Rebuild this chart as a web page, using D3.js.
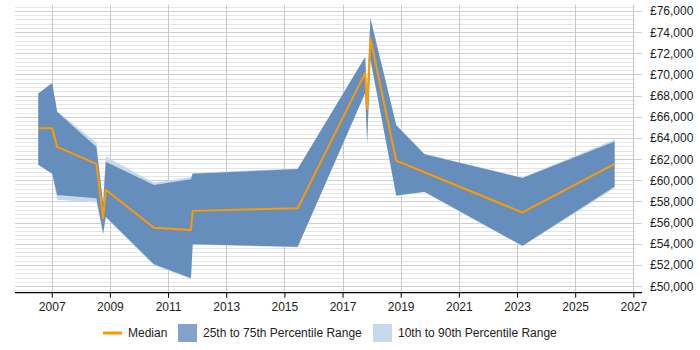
<!DOCTYPE html>
<html>
<head>
<meta charset="utf-8">
<script src="https://cdn.jsdelivr.net/npm/d3@7"></script>
<style>
  body { margin: 0; background: #fff; }
  text { font-family: "Liberation Sans", Arial, sans-serif; }
</style>
</head>
<body>
<div id="chart"></div>
<script>
// Data (decimal years, GBP)
const years  = [2006.52, 2007.0, 2007.17, 2008.52, 2008.75, 2008.84, 2010.5, 2011.77, 2011.83, 2015.44, 2017.76, 2017.83, 2017.94, 2018.83, 2019.8, 2023.17, 2026.34];
const median = [64950, 64950, 63200, 61600, 56450, 59150, 55550, 55350, 57150, 57400, 70200, 66800, 73450, 61900, 60800, 57000, 61600];
const p75    = [68250, 69250, 66500, 63200, 57800, 61800, 59600, 60150, 60650, 61100, 71700, 67900, 75350, 65250, 62500, 60250, 63700];
const p25    = [61500, 60650, 58650, 58350, 55000, 56600, 52100, 50800, 54000, 53750, 68300, 63600, 71500, 58600, 58950, 53850, 59450];
const p90    = [68250, 69250, 66600, 63600, 57900, 62300, 59800, 60350, 60750, 61150, 71700, 67900, 75400, 65300, 62550, 60300, 63900];
const p10    = [61500, 60650, 58200, 57950, 54900, 56500, 52000, 50700, 53950, 53700, 68250, 63500, 71450, 58550, 58900, 53800, 59300];

const xTicks = [2007, 2009, 2011, 2013, 2015, 2017, 2019, 2021, 2023, 2025, 2027];
const yTicks = d3.range(50000, 76001, 2000);
const yMinor = d3.range(49600, 76601, 400);

const width = 700, height = 350;
const plotLeft = 15, plotRight = 642, gridRight = 635, plotTop = 5, plotBottom = 292.7;

const svg = d3.select('#chart').append('svg')
  .attr('width', width)
  .attr('height', height);

const x = d3.scaleLinear().domain([2005.72, 2027.28]).range([plotLeft, plotRight]);
const y = d3.scaleLinear().domain([49414, 76614]).range([plotBottom, plotTop]);

// minor horizontal grid
svg.append('g').selectAll('line').data(yMinor.filter(v => v % 2000 !== 0)).join('line')
  .attr('x1', plotLeft).attr('x2', gridRight)
  .attr('y1', d => y(d)).attr('y2', d => y(d))
  .attr('stroke', '#e6e6e6').attr('stroke-width', 1).attr('shape-rendering', 'crispEdges');

// major horizontal grid + right ticks
svg.append('g').selectAll('line').data(yTicks).join('line')
  .attr('x1', plotLeft).attr('x2', plotRight)
  .attr('y1', d => y(d)).attr('y2', d => y(d))
  .attr('stroke', '#cfcfcf').attr('stroke-width', 1).attr('shape-rendering', 'crispEdges');

// vertical grid
svg.append('g').selectAll('line').data(xTicks).join('line')
  .attr('x1', d => x(d)).attr('x2', d => x(d))
  .attr('y1', plotTop).attr('y2', plotBottom)
  .attr('stroke', '#c8c8c8').attr('stroke-width', 1).attr('shape-rendering', 'crispEdges');

const idx = d3.range(years.length);

// 10th to 90th band
svg.append('path')
  .datum(idx)
  .attr('fill', '#c6d8ec')
  .attr('d', d3.area().x(i => x(years[i])).y0(i => y(p10[i])).y1(i => y(p90[i])));

// 25th to 75th band
svg.append('path')
  .datum(idx)
  .attr('fill', '#4e7cb0')
  .attr('fill-opacity', 0.8)
  .attr('d', d3.area().x(i => x(years[i])).y0(i => y(p25[i])).y1(i => y(p75[i])));

// median
svg.append('path')
  .datum(idx)
  .attr('fill', 'none')
  .attr('stroke', '#ff9900')
  .attr('stroke-width', 2)
  .attr('stroke-linejoin', 'round')
  .attr('d', d3.line().x(i => x(years[i])).y(i => y(median[i])));

// bottom axis
const xAxis = svg.append('g').attr('transform', `translate(0,${plotBottom})`);
xAxis.append('line')
  .attr('x1', plotLeft).attr('x2', plotRight).attr('y1', 0).attr('y2', 0)
  .attr('stroke', '#000').attr('stroke-width', 1.3);
xAxis.selectAll('line.tick').data(xTicks).join('line')
  .attr('class', 'tick')
  .attr('x1', d => x(d)).attr('x2', d => x(d))
  .attr('y1', 0).attr('y2', 5)
  .attr('stroke', '#000');
xAxis.selectAll('text').data(xTicks).join('text')
  .attr('x', d => x(d)).attr('y', 18)
  .attr('text-anchor', 'middle')
  .attr('font-size', 12)
  .attr('fill', '#222')
  .text(d => d);

// right axis labels
const fmt = d3.format(',');
svg.append('g').selectAll('text').data(yTicks).join('text')
  .attr('x', 650).attr('y', d => y(d))
  .attr('dominant-baseline', 'central')
  .attr('font-size', 12)
  .attr('fill', '#222')
  .text(d => '£' + fmt(d));

// legend
const legend = svg.append('g').attr('transform', 'translate(0,333)');
legend.append('line')
  .attr('x1', 103).attr('x2', 122).attr('y1', 0).attr('y2', 0)
  .attr('stroke', '#ff9900').attr('stroke-width', 3);
legend.append('text').attr('x', 128).attr('y', 0).attr('dominant-baseline', 'central')
  .attr('font-size', 12).attr('fill', '#222').text('Median');
legend.append('rect').attr('x', 178).attr('y', -9).attr('width', 19).attr('height', 18)
  .attr('fill', '#4e7cb0').attr('fill-opacity', 0.7);
legend.append('text').attr('x', 203).attr('y', 0).attr('dominant-baseline', 'central')
  .attr('font-size', 12).attr('fill', '#222').text('25th to 75th Percentile Range');
legend.append('rect').attr('x', 373).attr('y', -9).attr('width', 19).attr('height', 18)
  .attr('fill', '#c6d8ec');
legend.append('text').attr('x', 398).attr('y', 0).attr('dominant-baseline', 'central')
  .attr('font-size', 12).attr('fill', '#222').text('10th to 90th Percentile Range');
</script>
</body>
</html>
